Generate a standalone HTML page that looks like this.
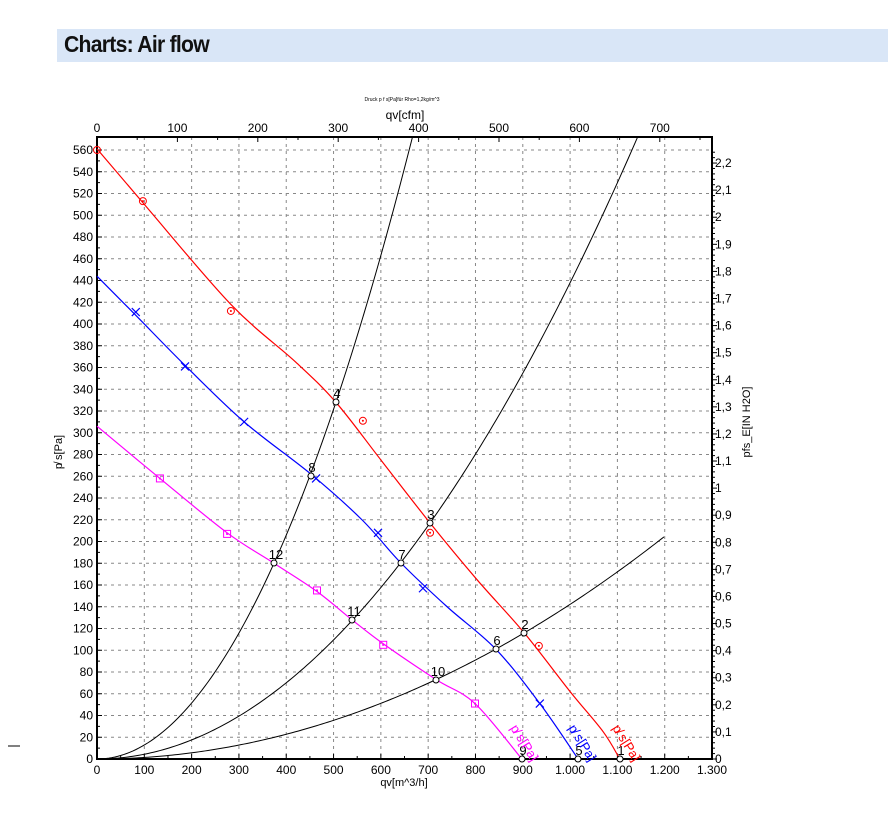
<!DOCTYPE html>
<html><head><meta charset="utf-8"><style>
body{margin:0;background:#fff;width:888px;height:819px;overflow:hidden;font-family:"Liberation Sans",sans-serif}
#hdr{position:absolute;left:57px;top:29px;width:831px;height:33px;background:#d9e6f7}
#hdr span{position:absolute;left:7px;top:2px;font-weight:bold;font-size:23px;letter-spacing:-0.8px;color:#111;transform:scaleX(0.92);transform-origin:left}
svg{position:absolute;left:0;top:0}
</style></head><body>
<div id="hdr"><span>Charts: Air flow</span></div>
<svg id="s" width="888" height="819" xmlns="http://www.w3.org/2000/svg" font-family="Liberation Sans, sans-serif"></svg>
<script>
const S=document.getElementById('s');let h='';
const X0=97,X1=712,Y0=759,Y1=137;
const px=v=>X0+v*0.4731, py=v=>Y0-v*1.0875;
for(let v=100;v<1300;v+=100)h+=`<line x1="${px(v)}" y1="${Y1}" x2="${px(v)}" y2="${Y0}" stroke="#888" stroke-dasharray="3,4" stroke-width="1"/>`;
for(let v=20;v<=560;v+=20)h+=`<line x1="${X0}" y1="${py(v)}" x2="${X1}" y2="${py(v)}" stroke="#888" stroke-dasharray="3,4" stroke-width="1"/>`;
for(let v=0;v<=1300;v+=100){const x=px(v);h+=`<line x1="${x}" y1="${Y0}" x2="${x}" y2="${Y0-5}" stroke="#000"/>`;
 const t=v>=1000?('1.'+String(v-1000).padStart(3,'0')):v;h+=`<text x="${x}" y="${Y0+15}" font-size="12" text-anchor="middle">${t}</text>`;}
for(let v=50;v<1300;v+=100)h+=`<line x1="${px(v)}" y1="${Y0}" x2="${px(v)}" y2="${Y0-3}" stroke="#000"/>`;
for(let v=0;v<=560;v+=20){const y=py(v);h+=`<line x1="${X0}" y1="${y}" x2="${X0+5}" y2="${y}" stroke="#000"/><text x="${X0-4}" y="${y+4}" font-size="12" text-anchor="end">${v}</text>`;}
for(let v=10;v<=560;v+=20)h+=`<line x1="${X0}" y1="${py(v)}" x2="${X0+3}" y2="${py(v)}" stroke="#000"/>`;
for(let c=0;c<=750;c+=50){const x=X0+c*0.804;if(x>X1)break;h+=`<line x1="${x}" y1="${Y1}" x2="${x}" y2="${Y1+(c%100?3:5)}" stroke="#000"/>`;if(c%100==0)h+=`<text x="${x}" y="${Y1-5}" font-size="12" text-anchor="middle">${c}</text>`;}
for(let i=0;i<=112;i++){const v=i*0.02;const y=Y0-v*249.09*1.0875;if(y<Y1)break;const maj=i%5==0;
 h+=`<line x1="${X1}" y1="${y}" x2="${X1+(maj?5:3)}" y2="${y}" stroke="#000"/>`;
 if(maj){let t=(Math.round(v*10)/10).toString().replace('.',',');h+=`<text x="${X1+3}" y="${y+4}" font-size="12">${t}</text>`;}}
h+=`<rect x="${X0}" y="${Y1}" width="${X1-X0}" height="${Y0-Y1}" fill="none" stroke="#000" stroke-width="2"/>`;
function par(k,xe){let d='';for(let x=X0;x<=xe;x+=3){const y=Y0-k*(x-X0)**2;if(y<Y1){const xx=X0+Math.sqrt((Y0-Y1)/k);d+=`L${xx},${Y1}`;break;}d+=(d?'L':'M')+x+','+y;}return `<path d="${d}" fill="none" stroke="#000" stroke-width="1"/>`;}
h+=par(0.00625,800)+par(0.002128,800)+par(0.000691,665);
function spline(pts,c){const P=pts.map(p=>[px(p[0]),py(p[1])]);let d=`M${P[0][0]},${P[0][1]}`;
 for(let i=0;i<P.length-1;i++){const p0=P[Math.max(i-1,0)],p1=P[i],p2=P[i+1],p3=P[Math.min(i+2,P.length-1)];
  d+=`C${p1[0]+(p2[0]-p0[0])/6},${p1[1]+(p2[1]-p0[1])/6} ${p2[0]-(p3[0]-p1[0])/6},${p2[1]-(p3[1]-p1[1])/6} ${p2[0]},${p2[1]}`;}
 return `<path d="${d}" fill="none" stroke="${c}" stroke-width="1.2"/>`;}
const red=[[0,561],[100,510],[283,418],[420,365],[505,328],[600,275],[704,217],[803,165],[903,116],[1000,62],[1070,25],[1105,0]];
const blue=[[0,444],[82,408],[186,362],[311,310],[452,262],[560,220],[643,180],[740,140],[843,101],[936,51],[1017,0]];
const mag=[[0,306],[133,258],[275,208],[374,180],[465,154],[539,128],[605,106],[717,73],[799,51],[898,0]];
h+=spline(red,'#f00')+spline(blue,'#00f')+spline(mag,'#f0f');
[[97,513],[283,412],[562,311],[704,208],[934,104]].forEach(p=>{h+=`<circle cx="${px(p[0])}" cy="${py(p[1])}" r="3.5" fill="none" stroke="#f00"/><circle cx="${px(p[0])}" cy="${py(p[1])}" r="1" fill="#f00"/>`});
h+=`<circle cx="${px(0)}" cy="${py(560)}" r="3.5" fill="none" stroke="#f00"/>`;
[[82,411],[186,361],[311,310],[463,258],[594,208],[689,157],[936,51]].forEach(p=>{const x=px(p[0]),y=py(p[1]);h+=`<path d="M${x-4},${y-4}L${x+4},${y+4}M${x-4},${y+4}L${x+4},${y-4}" stroke="#00f" stroke-width="1.2"/>`});
[[133,258],[275,207],[465,155],[605,105],[799,51]].forEach(p=>{const x=px(p[0]),y=py(p[1]);h+=`<rect x="${x-3.5}" y="${y-3.5}" width="7" height="7" fill="none" stroke="#f0f"/><rect x="${x-1}" y="${y-1}" width="2" height="2" fill="#f0f"/>`});
[[1,620,759],[2,524,633],[3,430,523],[4,336,402],[5,578,759],[6,496,649],[7,401,563],[8,311,476],[9,522,759],[10,436,680],[11,352,620],[12,274,563]].forEach(p=>{
 h+=`<circle cx="${p[1]}" cy="${p[2]}" r="3" fill="#fff" stroke="#000"/><text x="${p[1]+(p[0]>=10?2:1)}" y="${p[2]-4}" font-size="13" text-anchor="middle">${p[0]}</text>`});
[[612,728,'#f00'],[568,728,'#00f'],[510,728,'#f0f']].forEach(p=>{h+=`<text x="${p[0]}" y="${p[1]}" font-size="13" fill="${p[2]}" transform="rotate(58 ${p[0]} ${p[1]})">p̸ s[Pa]</text>`});
h+=`<text x="404" y="786" font-size="11" text-anchor="middle">qv[m^3/h]</text>`;
h+=`<text x="405" y="119" font-size="12" text-anchor="middle">qv[cfm]</text>`;
h+=`<text x="402" y="101" font-size="5" text-anchor="middle">Druck p f s[Pa]für Rho=1,2kg/m^3</text>`;
h+=`<text x="62" y="452" font-size="11" text-anchor="middle" transform="rotate(-90 62 452)">p̸ s[Pa]</text>`;
h+=`<text x="750" y="422" font-size="11" text-anchor="middle" transform="rotate(-90 750 422)">pfs_E[IN H2O]</text>`;
h+=`<line x1="8" y1="746" x2="20" y2="746" stroke="#000"/>`;
S.innerHTML=h;
</script>
</body></html>
